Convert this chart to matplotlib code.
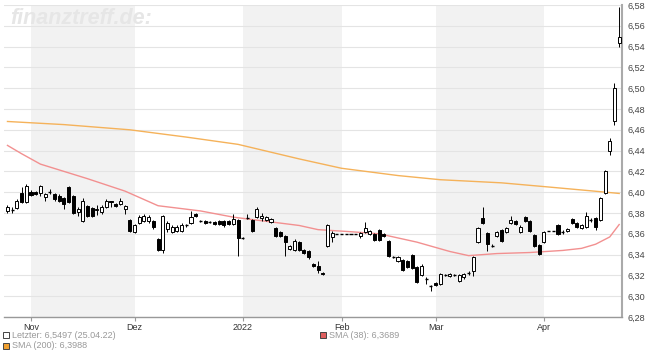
import matplotlib
matplotlib.use("Agg")
import matplotlib.pyplot as plt
from matplotlib.patches import Rectangle

plt.rcParams['font.family'] = ['Liberation Sans', 'DejaVu Sans']

# daily candles, one per trading day (index 0 = 25.10.21, last = 25.04.22)
opens = [6.382, 6.383, 6.385, 6.399, 6.391, 6.400, 6.400, 6.399, 6.395, 6.400,
         6.398, 6.396, 6.394, 6.405, 6.396, 6.381, 6.372, 6.387, 6.385, 6.383,
         6.381, 6.386, 6.392, 6.389, 6.389, 6.384, 6.373, 6.362, 6.370, 6.372,
         6.372, 6.372, 6.355, 6.344, 6.365, 6.362, 6.363, 6.363, 6.368, 6.370,
         6.379, 6.372, 6.372, 6.371, 6.371, 6.372, 6.372, 6.372, 6.369, 6.373,
         6.356, 6.375, 6.373, 6.376, 6.375, 6.373, 6.371, 6.366, 6.362, 6.358,
         6.345, 6.344, 6.352, 6.344, 6.343, 6.331, 6.329, 6.322, 6.348, 6.357,
         6.360, 6.360, 6.360, 6.360, 6.360, 6.358, 6.362, 6.360, 6.360, 6.364,
         6.360, 6.353, 6.338, 6.334, 6.335, 6.334, 6.340, 6.328, 6.320, 6.317,
         6.310, 6.313, 6.312, 6.320, 6.319, 6.320, 6.315, 6.318, 6.322, 6.324,
         6.352, 6.375, 6.361, 6.348, 6.358, 6.364, 6.362, 6.370, 6.372, 6.362,
         6.376, 6.372, 6.359, 6.349, 6.352, 6.363, 6.363, 6.368, 6.362, 6.363,
         6.374, 6.370, 6.366, 6.367, 6.373, 6.375, 6.373, 6.399, 6.440, 6.468,
         6.543]
highs = [6.388, 6.386, 6.393, 6.405, 6.408, 6.402, 6.401, 6.407, 6.399, 6.403,
         6.399, 6.398, 6.395, 6.406, 6.397, 6.386, 6.394, 6.388, 6.386, 6.388,
         6.388, 6.393, 6.392, 6.390, 6.394, 6.388, 6.374, 6.369, 6.378, 6.379,
         6.378, 6.373, 6.356, 6.378, 6.372, 6.368, 6.368, 6.370, 6.369, 6.382,
         6.380, 6.373, 6.373, 6.372, 6.372, 6.373, 6.373, 6.373, 6.379, 6.374,
         6.357, 6.379, 6.374, 6.386, 6.380, 6.377, 6.375, 6.367, 6.363, 6.359,
         6.349, 6.355, 6.353, 6.345, 6.344, 6.332, 6.334, 6.323, 6.369, 6.363,
         6.360, 6.360, 6.360, 6.360, 6.360, 6.362, 6.371, 6.364, 6.361, 6.365,
         6.361, 6.354, 6.339, 6.339, 6.336, 6.335, 6.341, 6.329, 6.331, 6.318,
         6.311, 6.314, 6.322, 6.321, 6.322, 6.321, 6.321, 6.322, 6.324, 6.339,
         6.367, 6.386, 6.362, 6.350, 6.363, 6.365, 6.367, 6.377, 6.373, 6.368,
         6.377, 6.373, 6.360, 6.350, 6.363, 6.363, 6.363, 6.369, 6.364, 6.366,
         6.375, 6.371, 6.369, 6.381, 6.375, 6.376, 6.395, 6.421, 6.452, 6.505,
         6.578]
lows = [6.380, 6.380, 6.384, 6.390, 6.390, 6.396, 6.397, 6.396, 6.392, 6.398,
        6.392, 6.391, 6.384, 6.390, 6.379, 6.377, 6.371, 6.376, 6.376, 6.378,
        6.379, 6.385, 6.386, 6.386, 6.388, 6.379, 6.362, 6.361, 6.369, 6.371,
        6.370, 6.365, 6.343, 6.342, 6.362, 6.361, 6.362, 6.362, 6.367, 6.369,
        6.376, 6.371, 6.369, 6.370, 6.368, 6.368, 6.367, 6.368, 6.368, 6.339,
        6.355, 6.374, 6.362, 6.375, 6.372, 6.372, 6.370, 6.357, 6.357, 6.339,
        6.344, 6.343, 6.343, 6.341, 6.336, 6.328, 6.322, 6.320, 6.347, 6.352,
        6.360, 6.360, 6.360, 6.360, 6.360, 6.356, 6.361, 6.359, 6.353, 6.353,
        6.357, 6.338, 6.337, 6.333, 6.324, 6.327, 6.326, 6.313, 6.319, 6.312,
        6.305, 6.310, 6.311, 6.319, 6.318, 6.319, 6.314, 6.317, 6.320, 6.319,
        6.351, 6.369, 6.343, 6.347, 6.357, 6.352, 6.361, 6.369, 6.368, 6.361,
        6.371, 6.362, 6.347, 6.340, 6.351, 6.363, 6.363, 6.359, 6.360, 6.362,
        6.369, 6.366, 6.365, 6.366, 6.371, 6.364, 6.372, 6.398, 6.436, 6.465,
        6.540]
closes = [6.386, 6.383, 6.392, 6.391, 6.406, 6.397, 6.398, 6.406, 6.398, 6.400,
          6.393, 6.392, 6.389, 6.391, 6.380, 6.384, 6.392, 6.377, 6.377, 6.384,
          6.386, 6.392, 6.391, 6.387, 6.392, 6.387, 6.363, 6.368, 6.376, 6.377,
          6.376, 6.367, 6.344, 6.377, 6.370, 6.367, 6.367, 6.368, 6.368, 6.376,
          6.377, 6.372, 6.370, 6.371, 6.369, 6.369, 6.368, 6.369, 6.374, 6.356,
          6.356, 6.375, 6.363, 6.384, 6.377, 6.376, 6.374, 6.358, 6.358, 6.352,
          6.348, 6.353, 6.344, 6.342, 6.338, 6.329, 6.325, 6.321, 6.368, 6.361,
          6.360, 6.360, 6.360, 6.360, 6.360, 6.361, 6.366, 6.363, 6.354, 6.354,
          6.358, 6.339, 6.338, 6.338, 6.325, 6.328, 6.327, 6.314, 6.329, 6.317,
          6.310, 6.311, 6.321, 6.320, 6.321, 6.320, 6.320, 6.321, 6.322, 6.338,
          6.366, 6.370, 6.350, 6.348, 6.362, 6.353, 6.366, 6.373, 6.369, 6.367,
          6.372, 6.363, 6.348, 6.341, 6.362, 6.363, 6.363, 6.360, 6.362, 6.365,
          6.370, 6.367, 6.368, 6.377, 6.373, 6.367, 6.394, 6.420, 6.449, 6.500,
          6.5497]

# moving averages at some trading-day positions
sma38_x = [0, 3, 7, 12, 17, 25, 32, 41, 48, 55, 62, 66, 73, 79, 87, 94, 98,
           104, 111, 118, 122, 125, 128, 130]
sma38_y = [6.445, 6.437, 6.427, 6.420, 6.413, 6.401, 6.387, 6.382, 6.376, 6.372,
           6.368, 6.364, 6.362, 6.360, 6.352, 6.343, 6.339, 6.341, 6.342, 6.344,
           6.346, 6.350, 6.357, 6.3689]
sma200_x = [0, 12, 26, 38, 49, 62, 71, 83, 92, 105, 115, 126, 130]
sma200_y = [6.468, 6.465, 6.460, 6.453, 6.446, 6.432, 6.423, 6.416, 6.412, 6.409,
            6.405, 6.4005, 6.3988]

month_pos = [5, 27, 50, 71, 91, 114]
month_labels = ['Nov', 'Dez', '2022', 'Feb', 'Mar', 'Apr']
shaded = [(5, 27), (50, 71), (91, 114)]

fig = plt.figure(figsize=(6.46, 3.54), dpi=100)
ax = fig.add_axes([4/646, 37/354, 618/646, 312/354])

for a, b in shaded:
    ax.axvspan(a, b, color='#f2f2f2', lw=0, zorder=0)

yt = [6.28 + 0.02*k for k in range(16)]
for v in yt:
    ax.axhline(v, color='#e4e4e4', lw=0.8, zorder=1)

ax.plot(sma200_x, sma200_y, color='#f5b25a', lw=1, zorder=2)
ax.plot(sma38_x, sma38_y, color='#f29090', lw=1, zorder=2)

w = 0.65
for i in range(len(opens)):
    o, h, l, c = opens[i], highs[i], lows[i], closes[i]
    ax.vlines(i, l, h, color='black', lw=0.7, zorder=3)
    if abs(c - o) < 0.0008:
        ax.hlines(o, i - w/2, i + w/2, color='black', lw=1, zorder=4)
    elif c > o:
        ax.bar(i, c - o, bottom=o, width=w, facecolor='white', edgecolor='black', lw=0.7, zorder=4)
    else:
        ax.bar(i, o - c, bottom=c, width=w, facecolor='black', edgecolor='black', lw=0.7, zorder=4)

ax.set_xlim(-0.74, 130.6)
ax.set_ylim(6.28, 6.58)
ax.yaxis.tick_right()
ax.set_yticks(yt)
ax.set_yticklabels([('%.2f' % v).replace('.', ',') for v in yt])
ax.tick_params(axis='y', length=0, pad=4, labelsize=6.5, labelcolor='#444444')
ax.set_xticks(month_pos)
ax.set_xticklabels(month_labels)
ax.tick_params(axis='x', length=3, width=0.8, color='#999999', pad=1, labelsize=6.5, labelcolor='#333333')

for s in ['top', 'left']:
    ax.spines[s].set_visible(False)
ax.spines['right'].set_color('#aaaaaa')
ax.spines['right'].set_linewidth(1.5)
ax.spines['bottom'].set_color('#999999')
ax.spines['bottom'].set_linewidth(1)

# watermark
fig.text(10/646, 1 - 18/354, 'finanztreff.de:', fontsize=15.5, fontweight='bold', fontstyle='italic',
         color='#e6e6e6', va='center', ha='left', zorder=0)

# legend
legend = [(3, 335, 'white', 'Letzter: 6,5497 (25.04.22)'),
          (320, 335, '#e06060', 'SMA (38): 6,3689'),
          (3, 346, '#f0a030', 'SMA (200): 6,3988')]
for x, y, col, txt in legend:
    fig.add_artist(Rectangle((x/646, 1 - (y + 3)/354), 6/646, 6/354, transform=fig.transFigure,
                             facecolor=col, edgecolor='#444444', lw=0.7))
    fig.text((x + 9)/646, 1 - y/354, txt, fontsize=6.5, color='#999999', va='center', ha='left')

fig.savefig('out.png', dpi=100)
